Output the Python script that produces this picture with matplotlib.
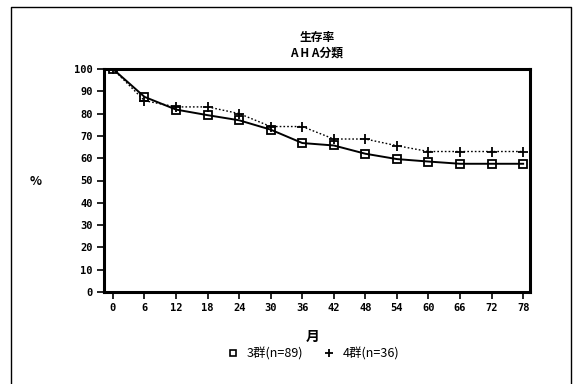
import matplotlib
matplotlib.use('Agg')
import matplotlib.pyplot as plt
from matplotlib.lines import Line2D

plt.rcParams['font.family'] = ['Noto Sans CJK JP', 'DejaVu Sans']

months = [0, 6, 12, 18, 24, 30, 36, 42, 48, 54, 60, 66, 72, 78]
group3 = [100, 87.5, 81.8, 79.3, 77, 72.8, 66.8, 65.7, 62, 59.6, 58.5, 57.5, 57.5, 57.5]
group4 = [100, 85.8, 83, 83, 80, 74.2, 74.2, 68.6, 68.6, 65.6, 63, 63, 63, 63]
yticks = list(range(0, 101, 10))

fig = plt.figure(figsize=(5.75, 3.84), dpi=100)
ax = fig.add_axes([104/575, 1-292/384, (530-104)/575, (292-69)/384])

ax.plot(months, group3, color='black', lw=1.4, marker='s', ms=5.5, mfc='none', mew=1.3)
ax.plot(months, group4, color='black', lw=1.0, ls=(0, (1.2, 1.5)), marker='+', ms=7, mew=1.3)

ax.set_xlim(-1.7, 79.3)
ax.set_ylim(0, 100)
ax.set_xticks(months)
ax.set_yticks(yticks)
tick_font = dict(family='DejaVu Sans Mono', weight='bold', size=7.5)
ax.set_xticklabels([str(m) for m in months], fontdict=tick_font)
ax.set_yticklabels([str(v) for v in yticks], fontdict=tick_font)
ax.tick_params(direction='out', length=5, width=1.2, pad=3)
for s in ax.spines.values():
    s.set_linewidth(2.2)

fig.text(317/575, 1-37/384, '生存率', ha='center', va='center', fontsize=8.5, weight='bold')
fig.text(317/575, 1-53/384, 'A H A分類', ha='center', va='center', fontsize=8.5, weight='bold')
fig.text(36/575, 1-181/384, '%', ha='center', va='center', fontsize=9, weight='bold')
fig.text(313/575, 1-337/384, '月', ha='center', va='center', fontsize=10, weight='bold')

handles = [Line2D([], [], ls='none', marker='s', ms=5, mfc='none', mec='black', mew=1.2),
           Line2D([], [], ls='none', marker='+', ms=6, color='black', mew=1.3)]
fig.legend(handles, ['3群(n=89)', '4群(n=36)'], loc='center', ncol=2,
           bbox_to_anchor=(313/575, 1-354/384), frameon=False, fontsize=9,
           handlelength=1, handletextpad=0.6, columnspacing=1.5)

# outer page border
fig.add_artist(Line2D([11/575, 11/575, 571/575, 571/575],
                      [0, 1-7/384, 1-7/384, 0], color='black', lw=1.0,
                      transform=fig.transFigure))

fig.savefig('out.png', dpi=100)
